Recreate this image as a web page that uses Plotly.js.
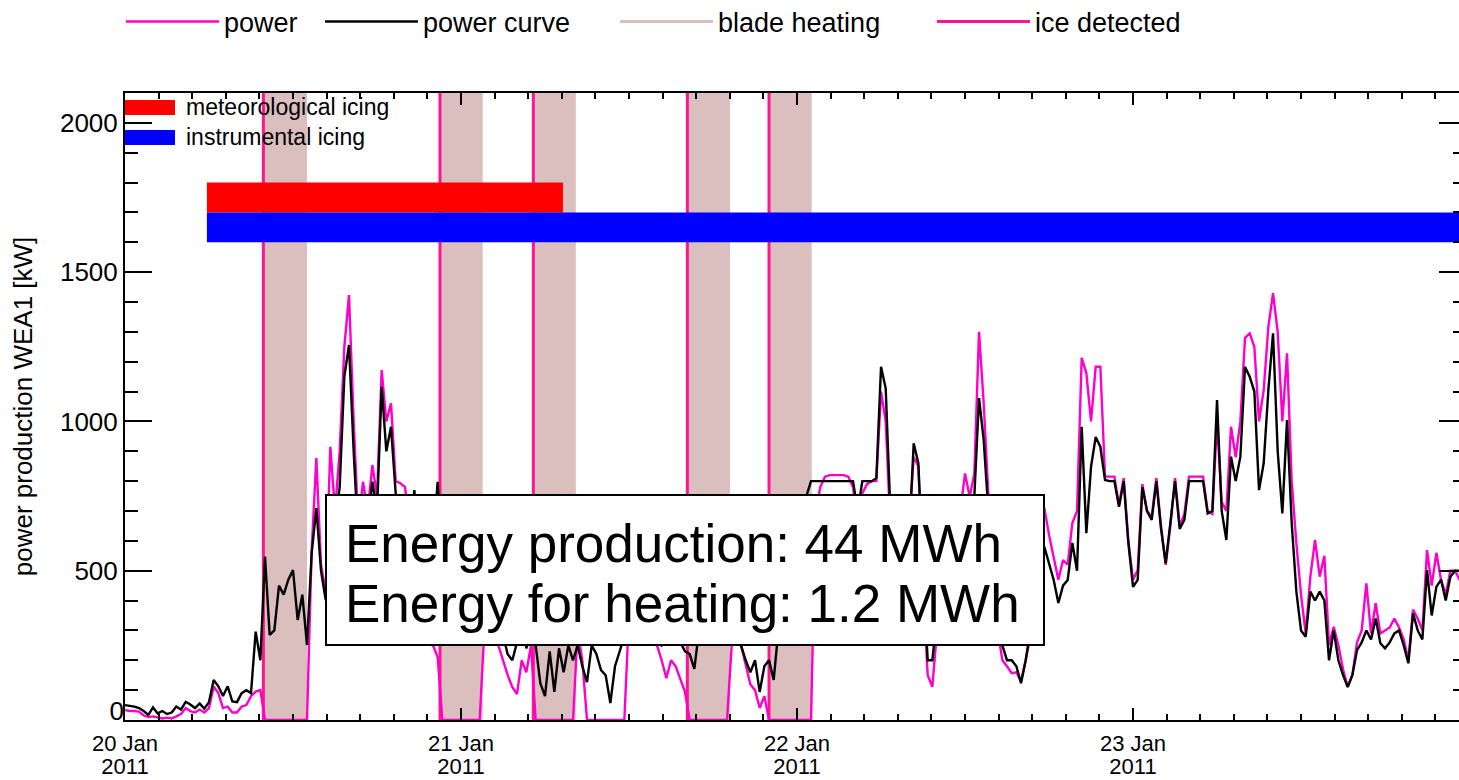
<!DOCTYPE html>
<html><head><meta charset="utf-8">
<script src="https://cdn.plot.ly/plotly-3.0.1.min.js"></script>
<style>html,body{margin:0;padding:0;overflow:hidden;background:#fff}#chart{width:1470px;height:780px}</style>
</head><body><div id="chart"></div>
<script>
// ---------------- data ----------------
const startTime = '2011-01-20T00:00:00Z';
const stepMinutes = 20;

// power curve (black), kW, one value every 20 min from 20 Jan 00:00
const powerCurve = [
  50,48,45,40,30,17,42,22,30,20,
  25,45,35,61,52,40,55,38,60,134,
  113,80,113,62,60,90,100,90,296,200,
  547,285,300,450,420,470,502,335,420,251,
  559,710,500,402,620,650,780,1150,1256,900,
  600,700,650,798,700,1116,900,982,760,700,
  700,600,770,550,500,450,600,798,500,600,
  450,550,400,500,350,450,380,300,400,300,
  350,280,220,200,260,350,240,300,250,123,
  80,230,94,240,160,250,200,250,180,127,
  250,221,167,150,57,180,230,280,350,400,
  450,500,400,350,300,250,260,300,280,260,
  230,221,171,300,400,350,450,400,350,300,
  300,350,250,200,160,200,94,180,200,134,
  300,400,500,550,650,700,750,800,800,800,
  800,800,800,800,800,800,800,700,800,800,
  800,810,1183,1111,700,600,550,500,600,927,
  860,500,200,200,350,450,500,550,600,650,
  700,700,750,1078,938,700,500,350,250,200,
  200,180,123,200,300,400,500,580,520,469,
  392,450,469,593,500,982,626,848,948,915,
  804,800,800,714,800,592,446,469,780,700,
  670,800,640,525,660,800,640,670,800,800,
  800,800,692,700,1072,700,603,882,800,882,
  1183,1150,1100,770,860,1105,1295,900,692,1005,
  660,430,300,279,430,400,430,400,200,300,
  200,150,110,150,234,260,300,270,340,257,
  240,260,290,300,250,190,357,300,270,502,
  350,446,470,400,480,500,500,480
];

// measured power (magenta), kW, same time steps
const power = [
  33,30,30,28,15,10,12,8,5,8,
  5,12,20,40,30,25,35,25,40,112,
  90,40,45,25,25,45,50,80,95,100,
  0,0,0,0,0,0,0,0,0,0,
  569,877,520,430,915,700,900,1250,1423,1000,
  650,798,700,854,750,1172,1000,1061,800,793,
  780,650,600,500,450,350,250,211,0,0,
  0,0,0,0,0,0,0,300,350,300,
  250,200,150,110,87,200,160,250,0,0,
  0,0,0,0,0,0,0,300,200,0,
  0,0,0,0,0,0,0,0,350,450,
  500,400,350,300,250,200,140,200,180,140,
  94,0,0,0,0,0,0,0,0,0,
  250,350,250,180,120,100,40,80,0,0,
  0,0,0,0,0,0,0,0,700,781,
  815,820,820,820,820,815,780,650,760,790,
  800,800,1100,1000,650,550,500,550,650,880,
  850,450,150,111,300,450,500,600,650,700,
  826,748,826,1300,1061,750,450,300,200,180,
  157,160,130,200,280,400,550,710,620,546,
  470,536,520,660,700,1213,1162,1000,1183,1183,
  815,815,815,720,810,600,470,502,790,700,
  680,810,650,520,650,810,650,690,815,815,
  815,815,700,690,1000,730,700,982,880,1000,
  1280,1295,1250,1000,1105,1317,1430,1300,1000,1228,
  800,592,420,290,480,603,480,550,250,312,
  250,170,112,150,260,300,458,290,391,290,
  300,310,340,310,270,200,370,340,300,569,
  450,560,470,420,500,500,469,480
];

// blade heating periods and ice detection events
const heatStart = ['2011-01-20 09:53','2011-01-20 22:30','2011-01-21 05:10','2011-01-21 16:10','2011-01-21 22:00'];
const heatEnd   = ['2011-01-20 13:00','2011-01-21 01:33','2011-01-21 08:12','2011-01-21 19:13','2011-01-22 01:03'];
const iceDetected = ['2011-01-20 09:53','2011-01-20 22:30','2011-01-21 05:10','2011-01-21 16:10','2011-01-21 22:00'];

// icing periods (bars)
const metIcingStart = ['2011-01-20 05:51'];
const metIcingEnd   = ['2011-01-21 07:17'];
const metIcingBand  = [1700, 1800];
const instIcingStart = ['2011-01-20 05:51'];
const instIcingEnd   = ['2011-01-24 00:00'];
const instIcingBand  = [1600, 1700];

const xRange = ['2011-01-20 00:00', '2011-01-23 23:47'];
const yRange = [0, 2100];
const yTickVals = [0, 500, 1000, 1500, 2000];
const boxLines = ['Energy production: 44 MWh', 'Energy for heating: 1.2 MWh'];

// ---------------- build ----------------
function fmt(ms){ return new Date(ms).toISOString().slice(0,16).replace('T',' '); }
const t0 = Date.parse(startTime);
const times = power.map((_, i) => fmt(t0 + i*stepMinutes*60000));

const heatX = [], heatY = [];
heatStart.forEach((s, k) => {
  const e = heatEnd[k];
  heatX.push(s, s, e, e, s, null);
  heatY.push(yRange[0], yRange[1], yRange[1], yRange[0], yRange[0], null);
});
const iceX = [], iceY = [];
iceDetected.forEach(t => { iceX.push(t, t, null); iceY.push(yRange[0], yRange[1], null); });

function band(starts, ends, b){
  const X = [], Y = [];
  starts.forEach((s, k) => { const e = ends[k]; X.push(s, e, e, s, s, null); Y.push(b[0], b[0], b[1], b[1], b[0], null); });
  return {X, Y};
}
const met = band(metIcingStart, metIcingEnd, metIcingBand);
const inst = band(instIcingStart, instIcingEnd, instIcingBand);

const PINK = 'rgb(255,0,204)';
const DEEP = 'rgb(255,20,147)';
const HEAT = 'rgb(219,191,191)';
const FONT = 'Liberation Sans, Arial, Helvetica, sans-serif';

const traces = [
  {x: heatX, y: heatY, mode: 'lines', fill: 'toself', fillcolor: HEAT, line: {width: 0, color: HEAT}, showlegend: false, hoverinfo: 'skip'},
  {x: iceX, y: iceY, mode: 'lines', line: {color: DEEP, width: 3}, name: 'ice detected', legend: 'legend4'},
  {x: times, y: power, mode: 'lines', line: {color: PINK, width: 2.4}, name: 'power', legend: 'legend'},
  {x: times, y: powerCurve, mode: 'lines', line: {color: '#000', width: 2.4}, name: 'power curve', legend: 'legend2'},
  {x: [null], y: [null], mode: 'lines', line: {color: HEAT, width: 3}, name: 'blade heating', legend: 'legend3'},
  {x: met.X, y: met.Y, mode: 'lines', fill: 'toself', fillcolor: '#ff0000', line: {width: 0, color: '#ff0000'}, showlegend: false},
  {x: inst.X, y: inst.Y, mode: 'lines', fill: 'toself', fillcolor: '#0000ff', line: {width: 0, color: '#0000ff'}, showlegend: false},
  {x: [null], y: [null], xaxis: 'x2', showlegend: false},
  {x: [null], y: [null], yaxis: 'y2', showlegend: false}
];

const W = 1470, H = 780, L = 125, R = 4, T = 93, B = 60;
const PW = W - L - R, PH = H - T - B;
const fx = px => (px - L) / PW;
const fy = py => (H - B - py) / PH;

function mkLegend(px){
  return {xref: 'container', yref: 'container', x: px / W, y: 1 - 22 / H, xanchor: 'left', yanchor: 'middle',
    orientation: 'h', itemwidth: 93, font: {family: FONT, size: 27, color: '#000'}, bgcolor: 'rgba(0,0,0,0)',
    borderwidth: 0, itemclick: false, itemdoubleclick: false};
}

const tickFontY = {family: FONT, size: 26, color: '#000'};
const layout = {
  width: W, height: H,
  margin: {l: L, r: R, t: T, b: B, pad: 0},
  paper_bgcolor: '#fff', plot_bgcolor: '#fff',
  font: {family: FONT, color: '#000'},
  showlegend: true,
  legend: mkLegend(121), legend2: mkLegend(320), legend3: mkLegend(615), legend4: mkLegend(932),
  xaxis: {type: 'date', range: xRange, tickmode: 'linear', tick0: '2011-01-20', dtick: 86400000,
    tickformat: '%d %b', ticks: 'inside', ticklen: 12, tickwidth: 2, tickcolor: '#000',
    minor: {tick0: '2011-01-20', dtick: 8640000, ticks: 'inside', ticklen: 6, tickwidth: 2, tickcolor: '#000', showgrid: false},
    showline: true, linecolor: '#000', linewidth: 2, mirror: 'ticks', showgrid: false, zeroline: false,
    tickfont: {family: FONT, size: 22, color: '#000'}, ticklabelstandoff: 3},
  xaxis2: {type: 'date', overlaying: 'x', anchor: 'y', side: 'bottom', range: xRange, tickmode: 'linear',
    tick0: '2011-01-20', dtick: 86400000, tickformat: '%Y', ticks: '', showline: false, showgrid: false, zeroline: false,
    tickfont: {family: FONT, size: 22, color: '#000'}, ticklabelstandoff: 31},
  yaxis: {range: yRange, tickmode: 'array', tickvals: yTickVals.slice(1), ticks: 'inside', ticklen: 27, tickwidth: 2, tickcolor: '#000',
    minor: {dtick: 100, ticks: 'inside', ticklen: 13, tickwidth: 2, tickcolor: '#000', showgrid: false},
    showline: true, linecolor: '#000', linewidth: 2, mirror: 'ticks', showgrid: false, zeroline: false,
    tickfont: tickFontY,
    title: {text: 'power production WEA1 [kW]', font: {family: FONT, size: 26, color: '#000'}, standoff: 20}},
  yaxis2: {overlaying: 'y', anchor: 'x', side: 'left', range: yRange, tickmode: 'array', tickvals: yTickVals.slice(0, 1),
    ticks: '', showline: false, showgrid: false, zeroline: false, tickfont: tickFontY, ticklabelshift: -9},
  shapes: [
    {type: 'rect', xref: 'paper', yref: 'paper', x0: fx(326), x1: fx(1044), y0: fy(645), y1: fy(495),
      fillcolor: '#fff', line: {color: '#000', width: 2}, layer: 'above'},
    {type: 'rect', xref: 'paper', yref: 'paper', x0: fx(125), x1: fx(175), y0: fy(115), y1: fy(100),
      fillcolor: '#ff0000', line: {width: 0}, layer: 'above'},
    {type: 'rect', xref: 'paper', yref: 'paper', x0: fx(125), x1: fx(175), y0: fy(145), y1: fy(130),
      fillcolor: '#0000ff', line: {width: 0}, layer: 'above'}
  ],
  annotations: [
    {xref: 'paper', yref: 'paper', x: fx(343), y: fy(543), xanchor: 'left', yanchor: 'middle', showarrow: false,
      text: boxLines[0], font: {family: FONT, size: 53, color: '#000'}},
    {xref: 'paper', yref: 'paper', x: fx(343), y: fy(603), xanchor: 'left', yanchor: 'middle', showarrow: false,
      text: boxLines[1], font: {family: FONT, size: 53, color: '#000'}},
    {xref: 'paper', yref: 'paper', x: fx(184), y: fy(107), xanchor: 'left', yanchor: 'middle', showarrow: false,
      text: 'meteorological icing', font: {family: FONT, size: 23, color: '#000'}},
    {xref: 'paper', yref: 'paper', x: fx(184), y: fy(137), xanchor: 'left', yanchor: 'middle', showarrow: false,
      text: 'instrumental icing', font: {family: FONT, size: 23, color: '#000'}}
  ]
};

Plotly.newPlot('chart', traces, layout, {displayModeBar: false, staticPlot: true});
</script>
</body></html>
